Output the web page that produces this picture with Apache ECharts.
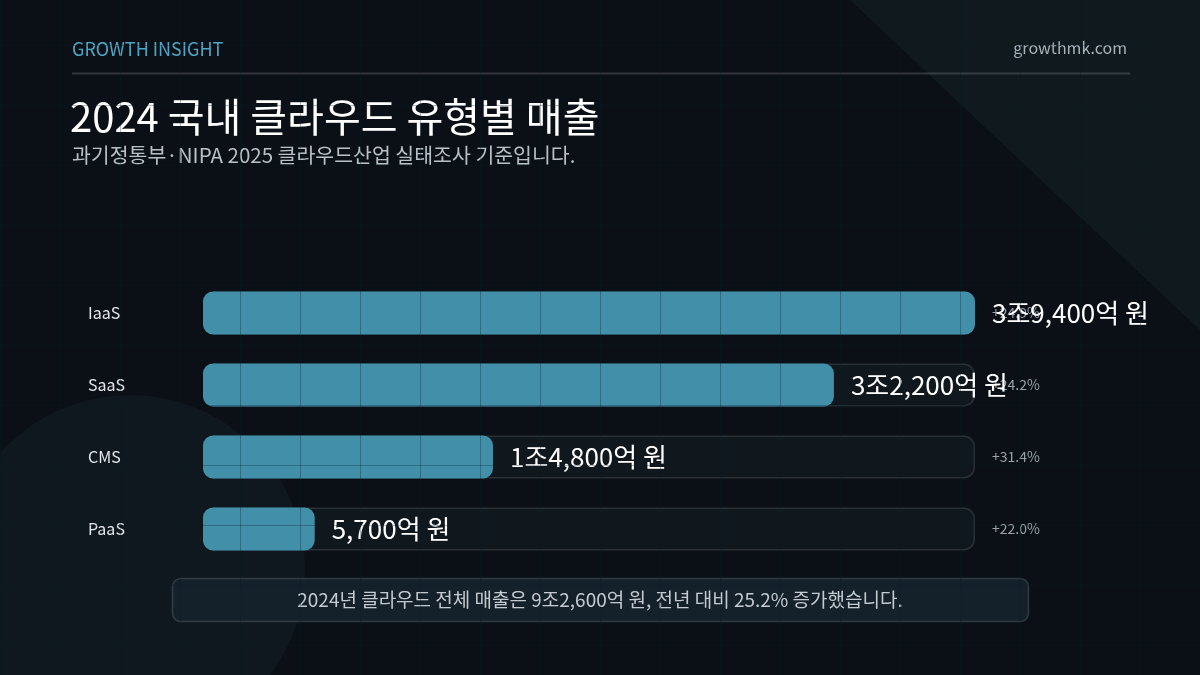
<!DOCTYPE html>
<html>
<head>
<meta charset="utf-8">
<script src="https://cdn.jsdelivr.net/npm/echarts@6/dist/echarts.min.js"></script>
<style>
html,body{margin:0;padding:0;background:#0b1016;}
#chart{width:1200px;height:675px;}
</style>
</head>
<body>
<div id="chart"></div>
<script>
// ---- data (억 원) ----
const categories = ['IaaS', 'SaaS', 'CMS', 'PaaS'];
const revenue = [39400, 32200, 14800, 5700];
const growth = [24.9, 24.2, 31.4, 22.0];
const titleText = '2024 국내 클라우드 유형별 매출';
const subtitleText = '과기정통부·NIPA 2025 클라우드산업 실태조사 기준입니다.';
const footerText = '2024년 클라우드 전체 매출은 9조2,600억 원, 전년 대비 25.2% 증가했습니다.';
const brandText = 'GROWTH INSIGHT';
const siteText = 'growthmk.com';

const FONT = '"Noto Sans CJK KR", "Noto Sans", sans-serif';
const maxVal = Math.max(...revenue);

function fmtKRW(v) {
  const jo = Math.floor(v / 10000);
  const rest = v % 10000;
  const restStr = rest.toLocaleString('en-US');
  return (jo > 0 ? jo + '조' + restStr : restStr) + '억 원';
}

const chart = echarts.init(document.getElementById('chart'), null, {renderer: 'canvas'});

// decorative 60px grid overlay
const gridLines = [];
const gridStroke = 'rgba(5,28,40,0.3)';
for (let x = 0; x <= 1200; x += 60) {
  gridLines.push({type: 'line', silent: true, z: 50,
    shape: {x1: x + 0.5, y1: 0, x2: x + 0.5, y2: 675},
    style: {stroke: gridStroke, lineWidth: 1}});
}
for (let y = 45; y <= 675; y += 60) {
  gridLines.push({type: 'line', silent: true, z: 50,
    shape: {x1: 0, y1: y + 0.5, x2: 1200, y2: y + 0.5},
    style: {stroke: gridStroke, lineWidth: 1}});
}

const option = {
  backgroundColor: '#0b1016',
  animation: false,
  textStyle: {fontFamily: FONT},
  grid: {left: 203, right: 225, top: 277, bottom: 110, containLabel: false},
  xAxis: {
    type: 'value', min: 0, max: maxVal, show: false
  },
  yAxis: {
    type: 'category', data: categories, inverse: true,
    axisLine: {show: false}, axisTick: {show: false}, splitLine: {show: false},
    axisLabel: {
      align: 'left', margin: 115, color: '#e4e8ec', fontSize: 16, fontFamily: FONT
    }
  },
  graphic: [
    {type: 'polygon', silent: true, z: -10,
      shape: {points: [[850, 0], [1200, 0], [1200, 330]]},
      style: {fill: '#10191e'}},
    {type: 'circle', silent: true, z: -10,
      shape: {cx: 130, cy: 570, r: 175},
      style: {fill: '#0f181e'}},
    {type: 'text', left: 72, top: 40, z: 10,
      style: {text: brandText, fill: '#4ea6c6', font: '18px ' + FONT}},
    {type: 'text', right: 73, top: 40, z: 10,
      style: {text: siteText, fill: '#a9b3bb', font: '16px ' + FONT}},
    {type: 'line', silent: true, z: 10,
      shape: {x1: 72, y1: 73.5, x2: 1130, y2: 73.5},
      style: {stroke: 'rgba(255,255,255,0.16)', lineWidth: 2}},
    {type: 'text', left: 70, top: 97, z: 10,
      style: {text: titleText, fill: '#ffffff', font: '40px ' + FONT}},
    {type: 'text', left: 72, top: 145, z: 10,
      style: {text: subtitleText, fill: '#b9c1c8', font: '20.5px ' + FONT}},
    {type: 'rect', z: 10,
      shape: {x: 172.5, y: 578.5, width: 856, height: 43, r: 8},
      style: {fill: '#15212a', stroke: 'rgba(255,255,255,0.14)', lineWidth: 1.5}},
    {type: 'text', z: 11, x: 600, y: 600,
      style: {text: footerText, fill: '#c3cad1', font: '19px ' + FONT,
        align: 'center', verticalAlign: 'middle'}},
    ...gridLines
  ],
  series: [
    {
      name: 'track', type: 'bar', barWidth: 43, silent: true,
      data: categories.map(() => maxVal),
      itemStyle: {color: '#10181e', borderColor: 'rgba(255,255,255,0.12)', borderWidth: 1.5, borderRadius: 10},
      label: {
        show: true, position: 'right', distance: 17,
        color: '#9aa3ab', fontSize: 14, fontFamily: FONT,
        formatter: p => '+' + growth[p.dataIndex].toFixed(1) + '%'
      },
      z: 2
    },
    {
      name: 'revenue', type: 'bar', barWidth: 43, barGap: '-100%',
      data: revenue,
      itemStyle: {color: '#418fa9', borderRadius: 10},
      label: {
        show: true, position: 'right', distance: 17,
        color: '#ffffff', fontSize: 26, fontFamily: FONT,
        formatter: p => fmtKRW(p.value)
      },
      z: 3
    }
  ]
};
chart.setOption(option);
</script>
</body>
</html>
